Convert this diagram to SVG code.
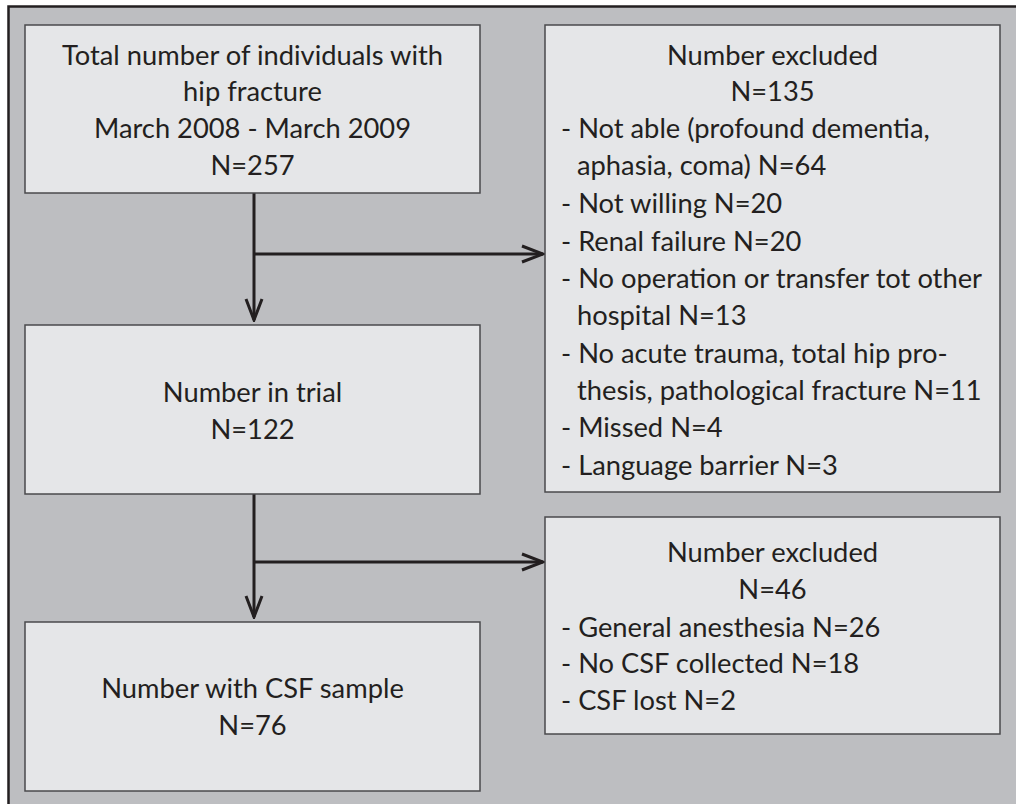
<svg xmlns="http://www.w3.org/2000/svg" width="1016" height="804" viewBox="0 0 1016 804">
<defs>
<style>
.box{fill:#e5e6e8;stroke:#4a4a4c;stroke-width:1.5}
.t{font-family:Lato,"Open Sans","Liberation Sans",sans-serif;font-size:27.3px;fill:#231f20}
.c{text-anchor:middle}
.ln{stroke:#231f20;stroke-width:3;fill:none}
</style>
<marker id="ah" viewBox="0 0 24 20" refX="22" refY="10" markerWidth="24" markerHeight="20" markerUnits="userSpaceOnUse" orient="auto">
<path d="M1,2 L22,10 L1,18" fill="none" stroke="#231f20" stroke-width="3"/>
</marker>
</defs>
<rect x="0" y="0" width="1016" height="804" fill="#ffffff"/>
<rect x="8.5" y="6.5" width="1100" height="900" fill="#bdbec1" stroke="#231f20" stroke-width="2.5"/>
<g id="connectors">
<path class="ln" d="M254,193 V320" marker-end="url(#ah)"/>
<path class="ln" d="M254,254 H543" marker-end="url(#ah)"/>
<path class="ln" d="M254,494 V617" marker-end="url(#ah)"/>
<path class="ln" d="M254,562 H543" marker-end="url(#ah)"/>
</g>
<g id="total">
<rect class="box" x="25" y="25" width="455" height="168"/>
<text class="t c" x="252.5" y="65">Total number of individuals with</text>
<text class="t c" x="252.5" y="101">hip fracture</text>
<text class="t c" x="252.5" y="138">March 2008 - March 2009</text>
<text class="t c" x="252.5" y="175">N=257</text>
</g>
<g id="trial">
<rect class="box" x="25" y="325" width="455" height="169"/>
<text class="t c" x="252.5" y="402">Number in trial</text>
<text class="t c" x="252.5" y="439">N=122</text>
</g>
<g id="csf">
<rect class="box" x="25" y="622" width="455" height="169"/>
<text class="t c" x="252.5" y="698">Number with CSF sample</text>
<text class="t c" x="252.5" y="735">N=76</text>
</g>
<g id="excluded1">
<rect class="box" x="545" y="25" width="455" height="467"/>
<text class="t c" x="772.5" y="65">Number excluded</text>
<text class="t c" x="772.5" y="101">N=135</text>
<text class="t" x="561" y="138">- Not able (profound dementia,</text>
<text class="t" x="577" y="175">aphasia, coma) N=64</text>
<text class="t" x="561" y="213">- Not willing N=20</text>
<text class="t" x="561" y="251">- Renal failure N=20</text>
<text class="t" x="561" y="288">- No operation or transfer tot other</text>
<text class="t" x="577" y="325">hospital N=13</text>
<text class="t" x="561" y="363">- No acute trauma, total hip pro-</text>
<text class="t" x="577" y="400">thesis, pathological fracture N=11</text>
<text class="t" x="561" y="437">- Missed N=4</text>
<text class="t" x="561" y="475">- Language barrier N=3</text>
</g>
<g id="excluded2">
<rect class="box" x="545" y="517" width="455" height="217"/>
<text class="t c" x="772.5" y="562">Number excluded</text>
<text class="t c" x="772.5" y="599">N=46</text>
<text class="t" x="561" y="637">- General anesthesia N=26</text>
<text class="t" x="561" y="673">- No CSF collected N=18</text>
<text class="t" x="561" y="710">- CSF lost N=2</text>
</g>
</svg>
